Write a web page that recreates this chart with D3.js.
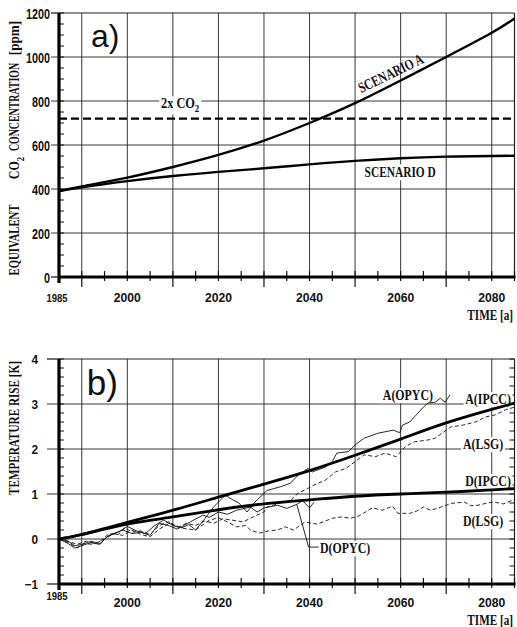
<!DOCTYPE html>
<html>
<head>
<meta charset="utf-8">
<script src="https://cdn.jsdelivr.net/npm/d3@7"></script>
<style>
  body { margin: 0; background: #fff; }
  svg { display: block; }
</style>
</head>
<body>
<svg id="chart" width="517" height="627"></svg>
<script>

// ---- panel a) : equivalent CO2 concentration ----
const co2Years = [1985, 1990, 2000, 2010, 2020, 2030, 2040, 2050, 2060, 2070, 2080, 2085]
const co2ScenA = [390, 412, 452, 500, 555, 620, 700, 790, 893, 1000, 1110, 1175]
const co2ScenD = [390, 408, 436, 459, 478, 494, 512, 528, 540, 547, 550, 551]
const co2Double = 720
const co2Ticks = [0, 200, 400, 600, 800, 1000, 1200]

// ---- panel b) : temperature rise ----
const ipccYears = [1985, 1990, 2000, 2010, 2020, 2030, 2040, 2050, 2060, 2070, 2080, 2085]
const ipccA = [0, 0.1, 0.37, 0.64, 0.93, 1.22, 1.52, 1.86, 2.22, 2.58, 2.88, 3.02]
const ipccD = [0, 0.1, 0.33, 0.49, 0.65, 0.78, 0.87, 0.95, 1.0, 1.04, 1.09, 1.12]

const opycAYears = [1985, 1987, 1988.5, 1990, 1992, 1994, 1996, 1998, 2000, 2002, 2004, 2006, 2008, 2010, 2012, 2013.5, 2015, 2017, 2019, 2021.5, 2023, 2024.5, 2026.3, 2028, 2030.7, 2033.6, 2035.8, 2037.5, 2039.7, 2040.6, 2043.5, 2045, 2046, 2048.5, 2050, 2052, 2055, 2058.4, 2059.8, 2060.4, 2062, 2063, 2065, 2066, 2067.6, 2068.7, 2069.8, 2070.8]
const opycA = [0, -0.05, -0.15, -0.12, -0.05, -0.1, 0.08, 0.15, 0.28, 0.18, 0.12, 0.3, 0.42, 0.3, 0.25, 0.32, 0.2, 0.45, 0.72, 0.97, 0.88, 0.8, 0.6, 0.82, 1.08, 1.16, 1.24, 1.42, 1.57, 1.49, 1.6, 1.72, 1.91, 1.94, 2.09, 2.24, 2.35, 2.42, 2.36, 2.53, 2.6, 2.71, 2.93, 3.02, 3.04, 3.13, 3.04, 3.2]

const lsgAYears = [1985, 1987, 1989, 1990.5, 1992.5, 1994, 1996, 1998, 1999.5, 2001, 2003, 2005, 2007, 2009, 2011, 2013, 2015, 2017, 2019, 2021, 2023, 2025.4, 2027.6, 2030, 2030.7, 2033.6, 2036, 2037.5, 2039, 2041, 2043.5, 2045.7, 2048, 2050, 2052, 2054.5, 2056.6, 2059, 2060.4, 2061, 2063, 2066, 2067.6, 2070, 2071, 2073.6, 2076.4, 2078.6, 2080.8, 2083, 2085]
const lsgA = [0, -0.08, -0.2, -0.1, -0.12, -0.05, 0.12, 0.1, 0.25, 0.15, 0.18, 0.1, 0.3, 0.38, 0.25, 0.35, 0.3, 0.4, 0.35, 0.45, 0.42, 0.38, 0.49, 0.6, 0.71, 0.8, 0.87, 1.02, 1.09, 1.2, 1.31, 1.49, 1.57, 1.72, 1.87, 1.83, 1.91, 1.83, 1.98, 2.05, 2.16, 2.2, 2.24, 2.42, 2.49, 2.53, 2.6, 2.71, 2.76, 2.87, 2.93]

const opycDYears = [1985, 1987, 1988.5, 1990, 1992, 1994, 1995.5, 1997, 1999, 2001, 2003, 2005, 2007, 2009, 2011, 2013.8, 2016.6, 2018, 2020, 2022, 2024, 2027, 2028.5, 2030, 2033, 2035, 2037.2, 2038.5, 2040, 2041]
const opycD = [0, -0.1, -0.2, -0.15, -0.08, -0.12, 0.05, 0.12, 0.2, 0.12, 0.15, 0.08, 0.35, 0.3, 0.22, 0.38, 0.53, 0.48, 0.6, 0.55, 0.64, 0.71, 0.6, 0.69, 0.75, 0.68, 0.77, 0.85, 0.69, 0.82]

const lsgDYears = [1985, 1987, 1989, 1991, 1993, 1995, 1997, 1999, 2001, 2003, 2005, 2007, 2009.4, 2012, 2015, 2018, 2020, 2022, 2024, 2026, 2027, 2029, 2031, 2033, 2034.7, 2036.5, 2039, 2041.7, 2045, 2047, 2049, 2051, 2053.8, 2056, 2058.2, 2059.4, 2062, 2063.5, 2065, 2066.5, 2068, 2070, 2071, 2074, 2075.5, 2077, 2079, 2080.5, 2082.6, 2084, 2085]
const lsgD = [0, -0.05, -0.12, -0.05, -0.1, 0.0, 0.12, 0.08, 0.2, 0.1, 0.05, 0.22, 0.36, 0.24, 0.2, 0.42, 0.47, 0.38, 0.27, 0.3, 0.2, 0.13, 0.18, 0.2, 0.27, 0.2, 0.38, 0.33, 0.46, 0.49, 0.46, 0.52, 0.69, 0.64, 0.73, 0.57, 0.57, 0.62, 0.71, 0.64, 0.68, 0.75, 0.79, 0.82, 0.74, 0.75, 0.8, 0.82, 0.78, 0.84, 0.87]

// leader line from the D(OPYC) curve down to its label
const leaderYears = [2037.2, 2039.8, 2042]
const leaderTemps = [0.77, -0.18, -0.18]

const tempTicks = [-1, 0, 1, 2, 3, 4]
const yearLabels = [2000, 2020, 2040, 2060, 2080]

const svg = d3.select('#chart')
const SERIF = 'Liberation Serif, Times New Roman, serif'
const SANS = 'Liberation Sans, Arial, sans-serif'

const x = d3.scaleLinear().domain([1985, 2085]).range([59, 514.5])
const yA = d3.scaleLinear().domain([0, 1200]).range([277, 13])
const yB = d3.scaleLinear().domain([-1, 4]).range([584, 359])

// text helper: condensed via horizontal scale, optional white box behind
function label (g, s, px, py, o) {
    o = o || {}
    const size = o.size || 14
    const grp = g.append('g')
        .attr('transform', `translate(${px},${py}) rotate(${o.rot || 0}) scale(${o.sx || 1},1)`)
    const t = grp.append('text')
        .attr('text-anchor', o.anchor || 'start')
        .attr('font-family', o.sans ? SANS : SERIF)
        .attr('font-weight', o.weight || 'bold')
        .attr('font-size', size)
        .attr('fill', '#111')
    if (o.sub) {
        t.append('tspan').text(s)
        t.append('tspan').attr('dy', size * 0.3).attr('font-size', size * 0.72).text(o.sub)
        if (o.after) t.append('tspan').attr('dy', -size * 0.3).text(o.after)
    } else {
        t.text(s)
    }
    if (o.bg) {
        const b = t.node().getBBox()
        grp.insert('rect', 'text')
            .attr('x', b.x - 2).attr('y', b.y + 1)
            .attr('width', b.width + 4).attr('height', b.height - 1)
            .attr('fill', '#fff')
    }
    return grp
}

function frame (g, y, minorStep, majorTicks, majorLen, rightTicks) {
    const [v0, v1] = y.domain()
    const top = y(v1), bot = y(v0)
    const left = x(1985), right = x(2085)

    g.append('g').selectAll('line').data(d3.range(1990, 2081, 10)).join('line')
        .attr('x1', d => x(d)).attr('x2', d => x(d))
        .attr('y1', top).attr('y2', bot)
        .attr('stroke', '#222').attr('stroke-width', 0.9)

    g.append('g').selectAll('line').data(majorTicks.slice(1, -1)).join('line')
        .attr('x1', left - majorLen).attr('x2', right)
        .attr('y1', d => y(d)).attr('y2', d => y(d))
        .attr('stroke', '#222').attr('stroke-width', 0.9)

    // top and right border
    g.append('line').attr('x1', left).attr('x2', right).attr('y1', top).attr('y2', top)
        .attr('stroke', '#222').attr('stroke-width', 1)
    g.append('line').attr('x1', right).attr('x2', right).attr('y1', top).attr('y2', bot)
        .attr('stroke', '#222').attr('stroke-width', 1.2)

    const minor = d3.range(Math.round((v1 - v0) / minorStep) + 1).map(i => v0 + i * minorStep)
    g.append('g').selectAll('line').data(minor).join('line')
        .attr('x1', left).attr('x2', left + 5)
        .attr('y1', d => y(d)).attr('y2', d => y(d))
        .attr('stroke', '#111').attr('stroke-width', 1)
    if (rightTicks) {
        g.append('g').selectAll('line').data(minor).join('line')
            .attr('x1', right - 5).attr('x2', right)
            .attr('y1', d => y(d)).attr('y2', d => y(d))
            .attr('stroke', '#111').attr('stroke-width', 1)
    }
    g.append('g').selectAll('line').data([majorTicks[0], majorTicks[majorTicks.length - 1]]).join('line')
        .attr('x1', left - majorLen).attr('x2', left)
        .attr('y1', d => y(d)).attr('y2', d => y(d))
        .attr('stroke', '#111').attr('stroke-width', 1.2)

    // x ticks every 5 years, crossing the axis; unlabelled decades longer below
    g.append('g').selectAll('line').data(d3.range(1990, 2086, 5)).join('line')
        .attr('x1', d => x(d)).attr('x2', d => x(d))
        .attr('y1', bot - 6)
        .attr('y2', d => (d % 20 === 10) ? bot + 10 : bot + 4)
        .attr('stroke', '#111').attr('stroke-width', 1.2)

    // thick axes
    g.append('line').attr('x1', left - 1).attr('x2', right + 1).attr('y1', bot).attr('y2', bot)
        .attr('stroke', '#000').attr('stroke-width', 3.2)
    g.append('line').attr('x1', left).attr('x2', left).attr('y1', top).attr('y2', bot + 6)
        .attr('stroke', '#000').attr('stroke-width', 3.2)
}

function xLabels (g, base1985, baseYears, baseTime) {
    label(g, '1985', x(1985) - 2, base1985, { sans: true, size: 10, anchor: 'middle', sx: 0.95 })
    yearLabels.forEach(d => label(g, String(d), x(d), baseYears, { sans: true, size: 13.5, anchor: 'middle', sx: 0.9 }))
    label(g, 'TIME  [a]', 513, baseTime, { size: 14, anchor: 'end', sx: 0.8 })
}

const path = (y, curve) => d3.line().x(d => x(d[0])).y(d => y(d[1])).curve(curve || d3.curveLinear)

// ================= panel a =================
const ga = svg.append('g')
frame(ga, yA, 50, co2Ticks, 8, false)

co2Ticks.forEach(v => label(ga, String(v), 50, yA(v) + 5.5, { sans: true, size: 15, anchor: 'end', sx: 0.72 }))
xLabels(ga, 302, 302, 320)

label(ga, 'EQUIVALENT', 19, 240, { rot: -90, size: 15, anchor: 'middle', sx: 0.72 })
label(ga, 'CO', 19, 168, { rot: -90, size: 15, anchor: 'middle', sx: 0.8, sub: '2' })
label(ga, 'CONCENTRATION', 19, 107, { rot: -90, size: 15, anchor: 'middle', sx: 0.66 })
label(ga, '[ppm]', 19, 38, { rot: -90, size: 15, anchor: 'middle', sx: 0.88 })

label(ga, 'a)', x(1992), yA(1045), { sans: true, weight: 'normal', size: 32 })
label(ga, '2x  CO', x(2011.6), yA(768), { size: 14, anchor: 'middle', sx: 0.88, sub: '2', bg: true })
label(ga, 'SCENARIO A', x(2058.3), yA(905), { size: 15, anchor: 'middle', sx: 0.76, rot: -26 })
label(ga, 'SCENARIO  D', x(2059.9), yA(455), { size: 15, anchor: 'middle', sx: 0.76, bg: true })

ga.append('line')
    .attr('x1', x(1985)).attr('x2', x(2085))
    .attr('y1', yA(co2Double)).attr('y2', yA(co2Double))
    .attr('stroke', '#000').attr('stroke-width', 2.4).attr('stroke-dasharray', '8,4')

ga.append('path').datum(d3.zip(co2Years, co2ScenA))
    .attr('d', path(yA, d3.curveNatural)).attr('fill', 'none').attr('stroke', '#000').attr('stroke-width', 2.4)
ga.append('path').datum(d3.zip(co2Years, co2ScenD))
    .attr('d', path(yA, d3.curveNatural)).attr('fill', 'none').attr('stroke', '#000').attr('stroke-width', 2.4)

// ================= panel b =================
const gb = svg.append('g')
frame(gb, yB, 0.2, tempTicks, 12, true)

tempTicks.forEach(v => label(gb, v < 0 ? '\u2212' + Math.abs(v) : String(v), 38, yB(v) + 4.5, { sans: true, size: 12.5, anchor: 'end', sx: 0.95 }))
xLabels(gb, 600, 607, 625)

label(gb, 'TEMPERATURE RISE [K]', 19, 428, { rot: -90, size: 14, anchor: 'middle', sx: 0.8 })
label(gb, 'b)', x(1991.1), yB(3.2), { sans: true, weight: 'normal', size: 35 })

label(gb, 'A(OPYC)', x(2061.6), yB(3.09), { size: 14, anchor: 'middle', sx: 0.85, bg: true })
label(gb, 'A(IPCC)', x(2084.2), yB(3.0), { size: 14, anchor: 'end', sx: 0.85, bg: true })
label(gb, 'A(LSG)', x(2078.1), yB(2.0), { size: 14, anchor: 'middle', sx: 0.85, bg: true })
label(gb, 'D(IPCC)', x(2084.2), yB(1.18), { size: 14, anchor: 'end', sx: 0.85, bg: true })
label(gb, 'D(LSG)', x(2078.1), yB(0.29), { size: 14, anchor: 'middle', sx: 0.85, bg: true })
label(gb, 'D(OPYC)', x(2042.3), yB(-0.31), { size: 14, anchor: 'start', sx: 0.85, bg: true })

const thin = [
    [opycAYears, opycA, null],
    [lsgAYears, lsgA, '4,2.5'],
    [opycDYears, opycD, null],
    [lsgDYears, lsgD, '4,2.5']
]
thin.forEach(([yrs, vals, dash]) => {
    gb.append('path').datum(d3.zip(yrs, vals))
        .attr('d', path(yB)).attr('fill', 'none').attr('stroke', '#111')
        .attr('stroke-width', 0.9).attr('stroke-dasharray', dash)
})

gb.append('path').datum(d3.zip(leaderYears, leaderTemps))
    .attr('d', path(yB)).attr('fill', 'none').attr('stroke', '#111').attr('stroke-width', 0.9)

gb.append('path').datum(d3.zip(ipccYears, ipccA))
    .attr('d', path(yB, d3.curveNatural)).attr('fill', 'none').attr('stroke', '#000').attr('stroke-width', 2.8)
gb.append('path').datum(d3.zip(ipccYears, ipccD))
    .attr('d', path(yB, d3.curveNatural)).attr('fill', 'none').attr('stroke', '#000').attr('stroke-width', 2.8)

</script>
</body>
</html>
